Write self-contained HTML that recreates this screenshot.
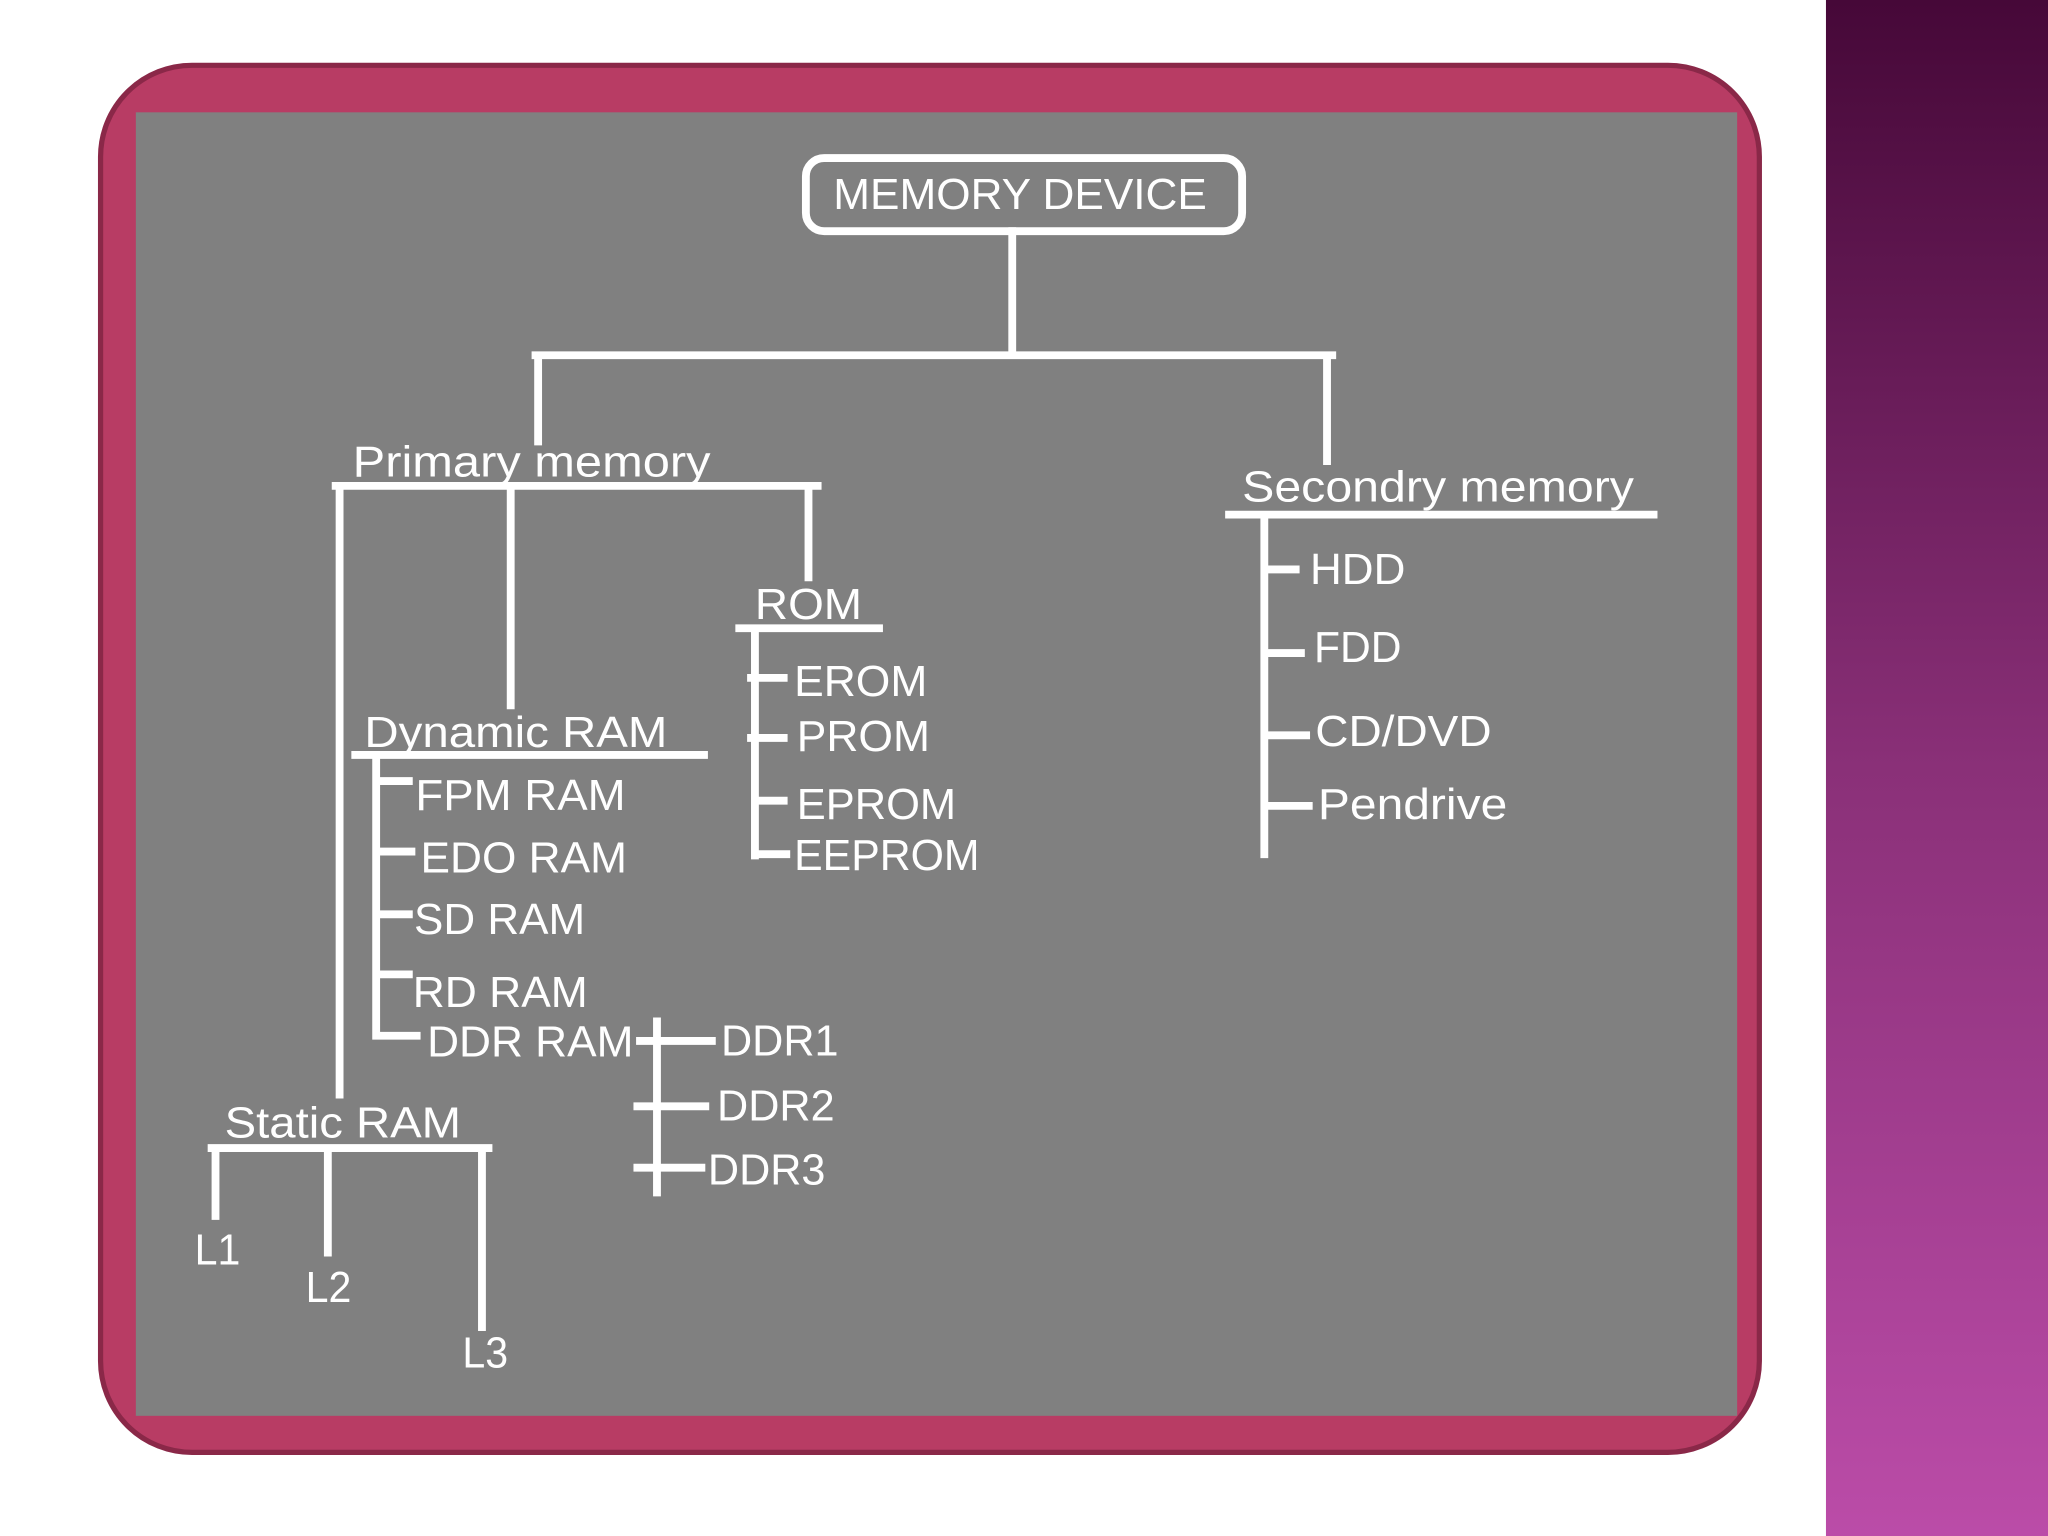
<!DOCTYPE html>
<html><head><meta charset="utf-8"><style>
html,body{margin:0;padding:0;background:#fff;width:2048px;height:1536px;overflow:hidden}
svg{display:block}
text{font-family:"Liberation Sans",sans-serif;font-size:33px;fill:#fff}
</style></head><body>
<svg width="2048" height="1536" viewBox="0 0 1568 1176" preserveAspectRatio="none">
<defs><linearGradient id="g" x1="0" y1="0" x2="0" y2="1">
<stop offset="0" stop-color="#460838"/><stop offset="0.5" stop-color="#8a3078"/><stop offset="1" stop-color="#bb4ca8"/></linearGradient></defs>
<rect x="0" y="0" width="1568" height="1176" fill="#fff"/>
<rect x="1398" y="0" width="170" height="1176" fill="url(#g)"/>
<rect x="77" y="50" width="1270" height="1062" rx="70" fill="#b83c64" stroke="#8a2848" stroke-width="4"/>
<rect x="104" y="86" width="1226" height="998" fill="#808080"/>
<g stroke="#fff" stroke-width="6" fill="none" stroke-linecap="square">
<rect x="617" y="121" width="334" height="56" rx="14"/>
<path d="M775 177V270M410 272H1020M412 272V338M1016 272V353"/>
<path d="M257 372H626M260 372V838M391 372V540M619 372V442"/>
<path d="M566 481H673M578 481V655M575 519H600M575 565H600M578 613H600M578 654H602"/>
<path d="M272 578H539M288 578V793M288 598H313M288 652H315M288 700H313M288 746H313M288 793H319"/>
<path d="M503 782V913M490 797H545M488 847H540M488 894H537"/>
<path d="M162 879H374M165 879V931M251 879V959M369 879V1016"/>
<path d="M941 394H1266M968 394V654M968 436H992M968 500H996M968 563H1000M968 617H1002"/>
</g>
<text x="638" y="160" textLength="286" lengthAdjust="spacingAndGlyphs">MEMORY DEVICE</text>
<text x="270" y="365" textLength="274" lengthAdjust="spacingAndGlyphs">Primary memory</text>
<text x="578" y="474" textLength="82" lengthAdjust="spacingAndGlyphs">ROM</text>
<text x="608" y="533" textLength="102" lengthAdjust="spacingAndGlyphs">EROM</text>
<text x="610" y="575" textLength="102" lengthAdjust="spacingAndGlyphs">PROM</text>
<text x="610" y="627" textLength="122" lengthAdjust="spacingAndGlyphs">EPROM</text>
<text x="608" y="666" textLength="142" lengthAdjust="spacingAndGlyphs">EEPROM</text>
<text x="279" y="572" textLength="232" lengthAdjust="spacingAndGlyphs">Dynamic RAM</text>
<text x="318" y="620" textLength="161" lengthAdjust="spacingAndGlyphs">FPM RAM</text>
<text x="322" y="668" textLength="158" lengthAdjust="spacingAndGlyphs">EDO RAM</text>
<text x="317" y="715" textLength="131" lengthAdjust="spacingAndGlyphs">SD RAM</text>
<text x="316" y="771" textLength="134" lengthAdjust="spacingAndGlyphs">RD RAM</text>
<text x="327" y="809" textLength="158" lengthAdjust="spacingAndGlyphs">DDR RAM</text>
<text x="552" y="808" textLength="90" lengthAdjust="spacingAndGlyphs">DDR1</text>
<text x="549" y="858" textLength="90" lengthAdjust="spacingAndGlyphs">DDR2</text>
<text x="542" y="907" textLength="90" lengthAdjust="spacingAndGlyphs">DDR3</text>
<text x="172" y="871" textLength="181" lengthAdjust="spacingAndGlyphs">Static RAM</text>
<text x="149" y="968" textLength="35" lengthAdjust="spacingAndGlyphs">L1</text>
<text x="234" y="997" textLength="35" lengthAdjust="spacingAndGlyphs">L2</text>
<text x="354" y="1047" textLength="35" lengthAdjust="spacingAndGlyphs">L3</text>
<text x="951" y="384" textLength="300" lengthAdjust="spacingAndGlyphs">Secondry memory</text>
<text x="1003" y="447" textLength="73" lengthAdjust="spacingAndGlyphs">HDD</text>
<text x="1006" y="507" textLength="67" lengthAdjust="spacingAndGlyphs">FDD</text>
<text x="1007" y="571" textLength="135" lengthAdjust="spacingAndGlyphs">CD/DVD</text>
<text x="1009" y="627" textLength="145" lengthAdjust="spacingAndGlyphs">Pendrive</text>
</svg>
</body></html>
